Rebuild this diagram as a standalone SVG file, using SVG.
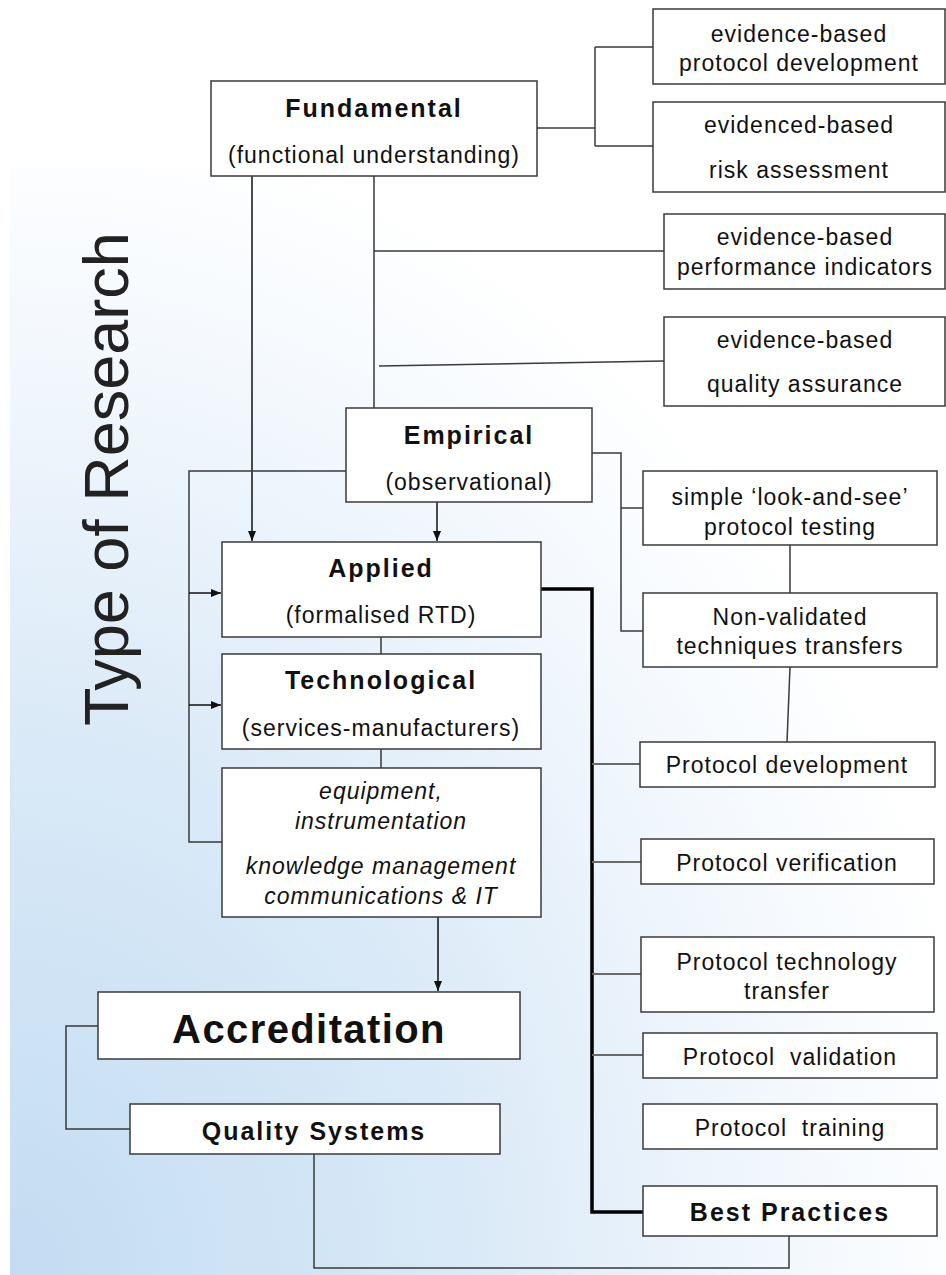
<svg xmlns="http://www.w3.org/2000/svg" width="946" height="1275" viewBox="0 0 946 1275">
  <defs>
    <radialGradient id="bg" cx="0" cy="1" r="1.05" gradientUnits="objectBoundingBox">
      <stop offset="0" stop-color="#c3dcf2"/>
      <stop offset="0.45" stop-color="#d9e9f7"/>
      <stop offset="0.8" stop-color="#f3f8fd"/>
      <stop offset="1" stop-color="#ffffff"/>
    </radialGradient>
    <marker id="arr" markerWidth="10" markerHeight="8" refX="10" refY="4" orient="auto" markerUnits="userSpaceOnUse">
      <path d="M0,0 L10,4 L0,8 Z" fill="#111"/>
    </marker>
    <style>
      .box { fill: #fff; stroke: #3a3a3a; stroke-width: 1.5; }
      .t { font-family: "Liberation Sans", Arial, sans-serif; font-size: 23px; letter-spacing: 1px; fill: #111; text-anchor: middle; }
      .b { font-weight: bold; font-size: 25px; letter-spacing: 2px; }
      .i { font-style: italic; }
      .c { fill: none; stroke: #3a3a3a; stroke-width: 1.5; }
      .g { fill: none; stroke: #6a6a6a; stroke-width: 2; }
      .k { fill: none; stroke: #000; stroke-width: 3.5; }
      .a { fill: none; stroke: #111; stroke-width: 1.5; marker-end: url(#arr); }
    </style>
  </defs>

  <rect x="10" y="168" width="936" height="1107" fill="url(#bg)"/>

  <text x="128" y="479" transform="rotate(-90 128 479)" font-family="'Liberation Sans', Arial, sans-serif" font-size="63" fill="#222" text-anchor="middle">Type of Research</text>

  <g id="connectors">
    <path class="c" d="M537,128 H595 M595,47 V146 M595,47 H653 M595,146 H653"/>
    <path class="c" d="M374,176 V408 M374,251 H664"/>
    <path class="c" d="M379,366 L664,361"/>
    <path class="a" d="M252,170 V541"/>
    <path class="a" d="M437,502 V541"/>
    <path class="c" d="M346,471 H189 V842 H222"/>
    <path class="a" d="M189,593 H221"/>
    <path class="a" d="M189,705 H221"/>
    <path class="c" d="M381,637 V654 M381,749 V768"/>
    <path class="a" d="M438,917 V991"/>
    <path class="c" d="M98,1026 H66 V1129 H130"/>
    <path class="c" d="M314,1154 V1268 H789 V1236"/>
    <path class="k" d="M541,589 H592 V1212 H643"/>
    <path class="c" d="M592,453 H621 V631 H643 M621,508 H643"/>
    <path class="c" d="M790,545 V593 M790,667 L787,742"/>
    <path class="g" d="M592,764 H640 M592,862 H641 M592,974 H641 M592,1055 H643"/>
  </g>

  <g id="fundamental">
    <rect class="box" x="211" y="81" width="326" height="95"/>
    <text class="t b" x="374" y="117">Fundamental</text>
    <text class="t" x="374" y="163">(functional understanding)</text>
  </g>
  <g id="ev-protocol">
    <rect class="box" x="653" y="9" width="292" height="75"/>
    <text class="t" x="799" y="42">evidence-based</text>
    <text class="t" x="799" y="71">protocol development</text>
  </g>
  <g id="ev-risk">
    <rect class="box" x="653" y="102" width="292" height="90"/>
    <text class="t" x="799" y="133">evidenced-based</text>
    <text class="t" x="799" y="178">risk assessment</text>
  </g>
  <g id="ev-performance">
    <rect class="box" x="664" y="214" width="281" height="75"/>
    <text class="t" x="805" y="245">evidence-based</text>
    <text class="t" x="805" y="275">performance indicators</text>
  </g>
  <g id="ev-quality">
    <rect class="box" x="664" y="317" width="281" height="89"/>
    <text class="t" x="805" y="348">evidence-based</text>
    <text class="t" x="805" y="392">quality assurance</text>
  </g>
  <g id="empirical">
    <rect class="box" x="346" y="408" width="246" height="94"/>
    <text class="t b" x="469" y="444">Empirical</text>
    <text class="t" x="469" y="490">(observational)</text>
  </g>
  <g id="applied">
    <rect class="box" x="222" y="542" width="319" height="95"/>
    <text class="t b" x="381" y="577">Applied</text>
    <text class="t" x="381" y="623">(formalised RTD)</text>
  </g>
  <g id="technological">
    <rect class="box" x="222" y="654" width="319" height="95"/>
    <text class="t b" x="381" y="689">Technological</text>
    <text class="t" x="381" y="736">(services-manufacturers)</text>
  </g>
  <g id="equipment">
    <rect class="box" x="222" y="768" width="319" height="149"/>
    <text class="t i" x="381" y="799">equipment,</text>
    <text class="t i" x="381" y="829">instrumentation</text>
    <text class="t i" x="381" y="874">knowledge management</text>
    <text class="t i" x="381" y="904">communications &amp; IT</text>
  </g>
  <g id="accreditation">
    <rect class="box" x="98" y="992" width="422" height="67"/>
    <text class="t b" x="309" y="1043" style="font-size:40px;letter-spacing:1.4px">Accreditation</text>
  </g>
  <g id="quality-systems">
    <rect class="box" x="130" y="1104" width="370" height="50"/>
    <text class="t b" x="314" y="1140">Quality Systems</text>
  </g>
  <g id="look-and-see">
    <rect class="box" x="643" y="471" width="294" height="74"/>
    <text class="t" x="790" y="505">simple ‘look-and-see’</text>
    <text class="t" x="790" y="535">protocol testing</text>
  </g>
  <g id="non-validated">
    <rect class="box" x="643" y="593" width="294" height="74"/>
    <text class="t" x="790" y="625">Non-validated</text>
    <text class="t" x="790" y="654">techniques transfers</text>
  </g>
  <g id="protocol-development">
    <rect class="box" x="640" y="742" width="295" height="45"/>
    <text class="t" x="787" y="773">Protocol development</text>
  </g>
  <g id="protocol-verification">
    <rect class="box" x="641" y="839" width="293" height="45"/>
    <text class="t" x="787" y="871">Protocol verification</text>
  </g>
  <g id="protocol-tech-transfer">
    <rect class="box" x="641" y="937" width="293" height="75"/>
    <text class="t" x="787" y="970">Protocol technology</text>
    <text class="t" x="787" y="999">transfer</text>
  </g>
  <g id="protocol-validation">
    <rect class="box" x="643" y="1033" width="294" height="45"/>
    <text class="t" x="790" y="1065" xml:space="preserve">Protocol  validation</text>
  </g>
  <g id="protocol-training">
    <rect class="box" x="643" y="1104" width="294" height="45"/>
    <text class="t" x="790" y="1136" xml:space="preserve">Protocol  training</text>
  </g>
  <g id="best-practices">
    <rect class="box" x="643" y="1186" width="294" height="50"/>
    <text class="t b" x="790" y="1221">Best Practices</text>
  </g>
</svg>
